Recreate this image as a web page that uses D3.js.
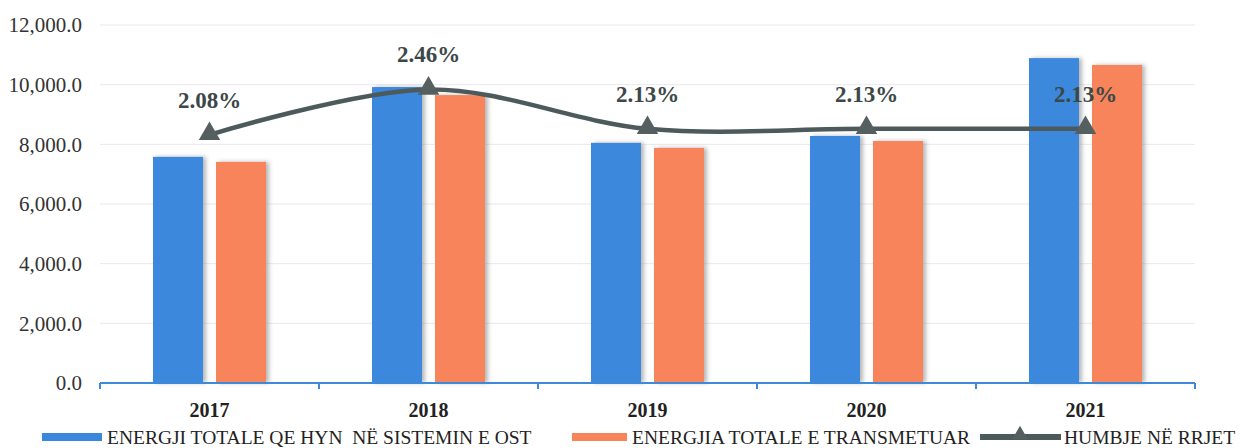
<!DOCTYPE html>
<html>
<head>
<meta charset="utf-8">
<script src="https://cdn.jsdelivr.net/npm/d3@7"></script>
<style>
  body { margin: 0; background: #fff; }
</style>
</head>
<body>
<div id="chart"></div>
<script>
const years = ["2017", "2018", "2019", "2020", "2021"];
const energyIn = [7580, 9920, 8050, 8280, 10890];
const energyOut = [7410, 9650, 7880, 8110, 10660];
const losses = [2.08, 2.46, 2.13, 2.13, 2.13];
const yTicks = [0, 2000, 4000, 6000, 8000, 10000, 12000];
const seriesNames = ["ENERGJI TOTALE QE HYN  NË SISTEMIN E OST", "ENERGJIA TOTALE E TRANSMETUAR", "HUMBJE NË RRJET"];

const width = 1247, height = 448;
const margin = {top: 25, right: 52, bottom: 65, left: 100};

const svg = d3.select("#chart")
  .append("svg")
  .attr("width", width)
  .attr("height", height)
  .style("font-family", "'Liberation Serif', 'Times New Roman', serif");

const defs = svg.append("defs");
defs.append("filter")
  .attr("id", "shadow")
  .attr("x", "-20%").attr("y", "-5%").attr("width", "160%").attr("height", "110%")
  .append("feDropShadow")
  .attr("dx", 3).attr("dy", 0).attr("stdDeviation", 2)
  .attr("flood-color", "#888").attr("flood-opacity", 0.6);

const x = d3.scaleBand()
  .domain(years)
  .range([margin.left, width - margin.right]);

const y = d3.scaleLinear()
  .domain([0, 12000])
  .range([height - margin.bottom, margin.top]);

// hidden secondary axis for the losses line
const y2 = d3.scaleLinear()
  .domain([0, 3])
  .range([height - margin.bottom, margin.top]);

// gridlines
svg.append("g")
  .selectAll("line")
  .data(yTicks.slice(1))
  .join("line")
  .attr("x1", margin.left)
  .attr("x2", width - margin.right)
  .attr("y1", d => y(d))
  .attr("y2", d => y(d))
  .attr("stroke", "#ece6f0")
  .attr("stroke-width", 1);

// y axis labels
svg.append("g")
  .selectAll("text")
  .data(yTicks)
  .join("text")
  .attr("x", 82)
  .attr("y", d => y(d))
  .attr("dy", "0.35em")
  .attr("text-anchor", "end")
  .attr("font-size", 21)
  .attr("fill", "#333")
  .text(d => d3.format(",.1f")(d));

const barW = 50, gap = 13;

svg.append("g")
  .attr("filter", "url(#shadow)")
  .selectAll("rect")
  .data(energyIn)
  .join("rect")
  .attr("x", (d, i) => x(years[i]) + x.bandwidth() / 2 - barW - gap / 2)
  .attr("y", d => y(d))
  .attr("width", barW)
  .attr("height", d => y(0) - y(d))
  .attr("fill", "#3a88dc");

svg.append("g")
  .attr("filter", "url(#shadow)")
  .selectAll("rect")
  .data(energyOut)
  .join("rect")
  .attr("x", (d, i) => x(years[i]) + x.bandwidth() / 2 + gap / 2)
  .attr("y", d => y(d))
  .attr("width", barW)
  .attr("height", d => y(0) - y(d))
  .attr("fill", "#f7845a");

// x axis
const xAxis = svg.append("g");
xAxis.append("line")
  .attr("x1", margin.left)
  .attr("x2", width - margin.right)
  .attr("y1", y(0))
  .attr("y2", y(0))
  .attr("stroke", "#3d8ad8")
  .attr("stroke-width", 2);
const bounds = years.map(d => x(d)).concat([x(years[years.length - 1]) + x.bandwidth()]);
xAxis.selectAll("line.tick")
  .data(bounds)
  .join("line")
  .attr("class", "tick")
  .attr("x1", d => d)
  .attr("x2", d => d)
  .attr("y1", y(0))
  .attr("y2", y(0) + 6)
  .attr("stroke", "#3d8ad8")
  .attr("stroke-width", 2);
xAxis.selectAll("text")
  .data(years)
  .join("text")
  .attr("x", d => x(d) + x.bandwidth() / 2)
  .attr("y", 417)
  .attr("text-anchor", "middle")
  .attr("font-size", 20)
  .attr("font-weight", "bold")
  .attr("fill", "#222")
  .text(d => d);

// losses line
const line = d3.line()
  .x((d, i) => x(years[i]) + x.bandwidth() / 2)
  .y(d => y2(d))
  .curve(d3.curveCatmullRom.alpha(0.5));

svg.append("path")
  .datum(losses)
  .attr("d", line)
  .attr("fill", "none")
  .attr("stroke", "#4d5a5b")
  .attr("stroke-width", 4.5);

svg.append("g")
  .selectAll("path")
  .data(losses)
  .join("path")
  .attr("d", d3.symbol(d3.symbolTriangle, 200))
  .attr("transform", (d, i) => `translate(${x(years[i]) + x.bandwidth() / 2},${y2(d) - 1})`)
  .attr("fill", "#555f60");

svg.append("g")
  .selectAll("text")
  .data(losses)
  .join("text")
  .attr("x", (d, i) => x(years[i]) + x.bandwidth() / 2)
  .attr("y", d => y2(d) - 27)
  .attr("text-anchor", "middle")
  .attr("font-size", 23)
  .attr("font-weight", "bold")
  .attr("fill", "#3c4848")
  .text(d => d.toFixed(2) + "%");

// legend
const legend = svg.append("g").attr("font-size", 19.5).attr("fill", "#222");
legend.append("rect").attr("x", 42).attr("y", 433).attr("width", 60).attr("height", 8).attr("fill", "#3a88dc");
legend.append("text").attr("x", 107).attr("y", 444).style("white-space", "pre").text(seriesNames[0]);
legend.append("rect").attr("x", 572).attr("y", 433).attr("width", 55).attr("height", 8).attr("fill", "#f7845a");
legend.append("text").attr("x", 632).attr("y", 444).text(seriesNames[1]);
legend.append("line").attr("x1", 980).attr("x2", 1061).attr("y1", 437).attr("y2", 437)
  .attr("stroke", "#4d5a5b").attr("stroke-width", 6);
legend.append("path").attr("d", d3.symbol(d3.symbolTriangle, 110))
  .attr("transform", "translate(1020,435)").attr("fill", "#555f60");
legend.append("text").attr("x", 1064).attr("y", 444).text(seriesNames[2]);
</script>
</body>
</html>
